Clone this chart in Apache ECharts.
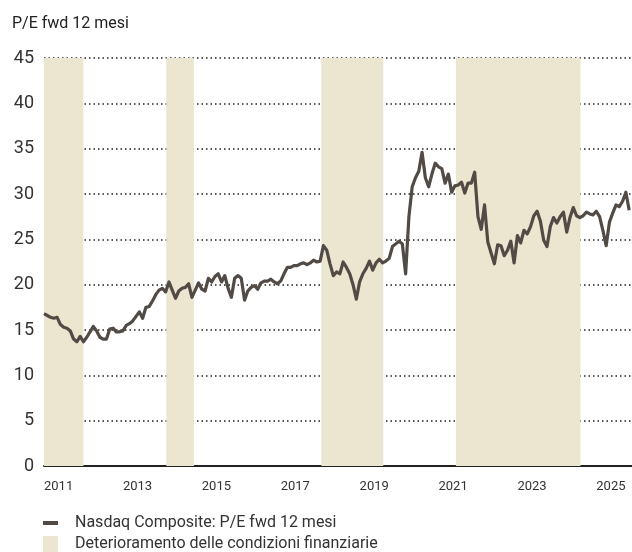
<!DOCTYPE html>
<html>
<head>
<meta charset="utf-8">
<script src="https://cdn.jsdelivr.net/npm/echarts@6/dist/echarts.min.js"></script>
<style>
  html, body { margin: 0; padding: 0; background: #fff; }
  #chart { width: 632px; height: 552px; }
</style>
</head>
<body>
<div id="chart"></div>
<script>
// P/E forward 12 mesi, valori mensili da gennaio 2011
const startYear = 2011
const peFwd = [
  16.8, 16.6, 16.4, 16.3, 16.4, 15.6, 15.3, 15.2, 14.9, 14.0, 13.7, 14.3,
  13.7, 14.2, 14.8, 15.4, 14.9, 14.2, 14.0, 14.0, 15.1, 15.2, 14.8, 14.8,
  14.9, 15.5, 15.7, 16.0, 16.5, 17.0, 16.3, 17.5, 17.6, 18.2, 18.9, 19.4,
  19.6, 19.2, 20.3, 19.4, 18.5, 19.3, 19.6, 19.7, 20.1, 18.6, 19.4, 20.2,
  19.5, 19.3, 20.7, 20.3, 20.9, 21.2, 20.3, 21.0, 19.6, 18.6, 20.7, 21.0,
  20.7, 18.3, 19.3, 19.7, 19.9, 19.5, 20.2, 20.4, 20.4, 20.6, 20.3, 20.1,
  20.4, 21.2, 21.9, 21.9, 22.1, 22.1, 22.3, 22.4, 22.2, 22.4, 22.7, 22.5,
  22.6, 24.3, 23.8, 22.3, 21.0, 21.4, 21.2, 22.5, 21.9, 21.2, 20.0, 18.4,
  20.3, 21.2, 21.8, 22.6, 21.6, 22.4, 22.8, 22.4, 22.6, 22.9, 24.2, 24.5,
  24.8, 24.5, 21.2, 27.5, 30.8, 31.8, 32.5, 34.6, 31.8, 30.8, 32.2, 33.4,
  33.0, 32.8, 31.2, 32.2, 30.2, 30.9, 31.0, 31.3, 30.1, 31.2, 31.2, 32.4,
  27.5, 26.1, 28.8, 24.7, 23.5, 22.3, 24.4, 24.3, 23.2, 23.8, 24.8, 22.4,
  25.4, 24.6, 26.0, 25.6, 26.4, 27.6, 28.1, 27.0, 24.9, 24.2, 26.4, 27.4,
  26.8, 27.5, 28.0, 25.8, 27.4, 28.5, 27.6, 27.4, 27.6, 28.0, 27.8, 27.7,
  28.1, 27.5, 26.0, 24.3, 26.9, 27.9, 28.8, 28.6, 29.2, 30.2, 28.2
]

// periodi di deterioramento delle condizioni finanziarie (anni decimali)
const bandStart = [2011.0, 2014.1, 2018.03, 2021.44]
const bandEnd = [2012.0, 2014.8, 2019.6, 2024.6]

const yTicks = [0, 5, 10, 15, 20, 25, 30, 35, 40, 45]

const lineName = 'Nasdaq Composite: P/E fwd 12 mesi'
const bandName = 'Deterioramento delle condizioni finanziarie'

const lineColor = '#524a45'
const bandColor = '#ebe6cf'
const font = 'Roboto, "Liberation Sans", sans-serif'

const seriesData = peFwd.map((v, i) => [startYear + i / 12, v])
const bands = bandStart.map((s, i) => [{ xAxis: s }, { xAxis: bandEnd[i] }])

const chart = echarts.init(document.getElementById('chart'), null, { renderer: 'canvas' })

chart.setOption({
  animation: false,
  backgroundColor: '#fff',
  title: {
    text: 'P/E fwd 12 mesi',
    left: 7,
    top: 11,
    textStyle: { fontFamily: font, fontSize: 16, fontWeight: 'normal', color: '#222' }
  },
  grid: { left: 44, right: 0, top: 58, bottom: 86, containLabel: false },
  legend: [
    {
      orient: 'vertical',
      left: 38,
      top: 510,
      itemWidth: 15,
      itemHeight: 4,
      itemGap: 0,
      icon: 'rect',
      selectedMode: false,
      textStyle: { fontFamily: font, fontSize: 16, color: '#333', padding: [0, 0, 0, 12] },
      data: [lineName]
    },
    {
      orient: 'vertical',
      left: 38,
      top: 531,
      itemWidth: 15,
      itemHeight: 16,
      icon: 'rect',
      selectedMode: false,
      textStyle: { fontFamily: font, fontSize: 16, color: '#333', padding: [0, 0, 0, 12] },
      data: [bandName]
    }
  ],
  xAxis: {
    type: 'value',
    min: 2011,
    max: 2025.905,
    interval: 2,
    axisLine: { show: true, onZero: true, lineStyle: { color: '#222', width: 2 } },
    axisTick: { show: false },
    splitLine: { show: false },
    axisLabel: {
      showMaxLabel: false,
      align: 'left',
      margin: 14,
      fontFamily: font,
      fontSize: 13,
      color: '#333',
      formatter: v => String(Math.round(v))
    }
  },
  yAxis: {
    type: 'value',
    min: yTicks[0],
    max: yTicks[yTicks.length - 1],
    interval: 5,
    axisLine: { show: false },
    axisTick: { show: false },
    axisLabel: { margin: 10, fontFamily: font, fontSize: 18, color: '#333' },
    splitLine: { show: true, lineStyle: { color: '#222', type: [1.5, 3], width: 1.5 } }
  },
  series: [
    {
      name: bandName,
      type: 'line',
      data: [],
      itemStyle: { color: bandColor },
      markArea: {
        silent: true,
        itemStyle: { color: bandColor },
        data: bands
      }
    },
    {
      name: lineName,
      type: 'line',
      data: seriesData,
      showSymbol: false,
      z: 5,
      itemStyle: { color: lineColor },
      lineStyle: { color: lineColor, width: 3.2, join: 'round' }
    }
  ]
})
</script>
</body>
</html>
